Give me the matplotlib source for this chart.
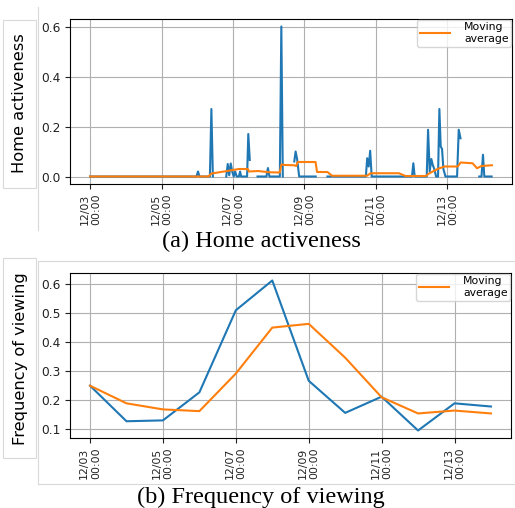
import numpy as np
import matplotlib
matplotlib.use("Agg")
import matplotlib.pyplot as plt
import matplotlib.dates as mdates
from matplotlib.patches import Rectangle
from matplotlib.lines import Line2D

nan = np.nan

# ---------- (a) Home activeness : hourly samples (hours since 12/03 00:00) ----------
home_hours = [0, 71.5, 72.5, 73.5, 80.5, 81.5, 82.5, 87,
              91.5, 92.5, 93.5, 94.5, 95.5, 96.5, 97.5, 98.5, 100, 100.8, 101.5, 105.5, 106.3, 107.3, 110,
              112.5, 118.5, 119.5, 120.5, 127.5, 128.5, 129.5, 133,
              137.2, 138.1, 139.1, 140.5, 151.6, 155,
              159.5, 185.3, 186.2, 187.2, 188.2, 189.2, 216.3, 217.2, 218.1, 226.2, 227.1, 228.2,
              229.3, 230.3, 231.3, 232.5, 233.8, 234.7, 235.6, 236.5, 237.4, 238.8, 246.6, 247.7, 248.9, 255,
              261.5, 263, 264, 264.9, 269.8]
home_values = [0, 0, 0.02, 0, 0, 0.27, 0, nan,
               0, 0.05, 0.005, 0.052, 0.02, 0.0, 0.02, 0, 0, 0.02, 0, 0, 0.17, 0.066, nan,
               0, 0, 0.034, 0, 0, 0.6, 0, nan,
               0.06, 0.1, 0.07, 0, 0, nan,
               0, 0, 0.073, 0.04, 0.103, 0, 0, 0.053, 0, 0, 0.187, 0.02,
               0.07, 0.045, 0.03, 0, 0, 0.27, 0.12, 0.11, 0.03, 0, 0, 0.187, 0.153, nan,
               0, 0, 0.087, 0, 0]

home_ma_hours = [0, 79.5, 81.5, 90, 96, 100, 106, 106.7, 113, 120, 127.5, 128.5, 131, 137, 138.5,
                 139.5, 151.5, 152.5, 159.5, 162.5, 186, 188.5, 207.5, 212, 225.5, 228, 233.5, 238,
                 247, 249, 257, 260, 263, 270]
home_ma_values = [0, 0, 0.012, 0.02, 0.026, 0.03, 0.03, 0.02, 0.022, 0.017, 0.016, 0.048, 0.046,
                  0.045, 0.042, 0.058, 0.058, 0.018, 0.018, 0.003, 0.003, 0.013, 0.013, 0.002,
                  0.002, 0.013, 0.03, 0.04, 0.04, 0.056, 0.053, 0.033, 0.042, 0.045]

# ---------- (b) Frequency of viewing : daily ----------
view_days = ["2019-12-03", "2019-12-04", "2019-12-05", "2019-12-06", "2019-12-07", "2019-12-08",
             "2019-12-09", "2019-12-10", "2019-12-11", "2019-12-12", "2019-12-13", "2019-12-14"]
view_values = [0.249, 0.126, 0.129, 0.226, 0.510, 0.613, 0.266, 0.155, 0.211, 0.094, 0.188, 0.177]
view_ma_values = [0.249, 0.188, 0.167, 0.161, 0.291, 0.450, 0.463, 0.346, 0.209, 0.153, 0.163, 0.153]

tick_days = ["2019-12-03", "2019-12-05", "2019-12-07", "2019-12-09", "2019-12-11", "2019-12-13"]
legend_label = "Moving\naverage"
captions = ["(a) Home activeness", "(b) Frequency of viewing"]
ylabels = ["Home activeness", "Frequency of viewing"]

base = np.datetime64("2019-12-03T00:00")
def to_dt(hours):
    return base + (np.array(hours) * 60).round().astype("timedelta64[m]")

W, H = 515, 508
fig = plt.figure(figsize=(W / 100, H / 100), dpi=100)

def fx(x): return x / W
def fy(y): return 1 - y / H

ax1 = fig.add_axes([fx(70), fy(184), fx(442), 165 / H])
ax2 = fig.add_axes([fx(70), fy(438), fx(441), 165 / H])

ax1.plot(to_dt(home_hours), home_values, color="#1f77b4", lw=1.5)
ax1.plot(to_dt(home_ma_hours), home_ma_values, color="#ff7f0e", lw=1.5, label=legend_label)
ax1.set_yticks([0.0, 0.2, 0.4, 0.6])

vd = np.array(view_days, dtype="datetime64[m]")
ax2.plot(vd, view_values, color="#1f77b4", lw=1.5)
ax2.plot(vd, view_ma_values, color="#ff7f0e", lw=1.5, label=legend_label)
ax2.set_yticks([0.1, 0.2, 0.3, 0.4, 0.5, 0.6])

for ax in (ax1, ax2):
    ax.grid(True, color="#b0b0b0", lw=0.8)
    ax.set_xticks(np.array(tick_days, dtype="datetime64[m]"))
    ax.xaxis.set_major_formatter(mdates.DateFormatter("%m/%d\n%H:%M"))
    ax.tick_params(axis="x", labelsize=7.8, rotation=90, colors="#222222")
    ax.tick_params(axis="y", labelsize=8.8, colors="#222222")
    leg = ax.legend(loc="upper right", fontsize=7.8, borderaxespad=0.05,
                    handlelength=2.8, handletextpad=1.3, borderpad=0.25, labelspacing=0.15)

# y labels inside light boxes
fig.text(fx(20), fy(103), ylabels[0], rotation=90, ha="center", va="center", fontsize=11.7)
fig.text(fx(20.5), fy(359), ylabels[1], rotation=90, ha="center", va="center", fontsize=11.7)

box_c = "#d9d9d9"
for (x0, y0, x1, y1) in [(3, 20, 36, 188), (3, 258, 36, 458)]:
    fig.add_artist(Rectangle((fx(x0), fy(y1)), fx(x1 - x0), (y1 - y0) / H,
                             transform=fig.transFigure, fill=False, ec=box_c, lw=0.8))
fig.add_artist(Line2D([fx(38), fx(38)], [fy(7), fy(230)], transform=fig.transFigure, color=box_c, lw=0.8))
fig.add_artist(Line2D([fx(38), fx(38)], [fy(261), fy(484)], transform=fig.transFigure, color=box_c, lw=0.8))
fig.add_artist(Line2D([fx(38), fx(515)], [fy(261), fy(261)], transform=fig.transFigure, color=box_c, lw=0.8))
fig.add_artist(Line2D([fx(38), fx(515)], [fy(484), fy(484)], transform=fig.transFigure, color=box_c, lw=0.8))

fig.text(fx(261), fy(241), captions[0], ha="center", va="center", fontsize=17.5,
         family="Liberation Serif")
fig.text(fx(261), fy(497), captions[1], ha="center", va="center", fontsize=17.5,
         family="Liberation Serif")

fig.savefig("out.png", dpi=100)
